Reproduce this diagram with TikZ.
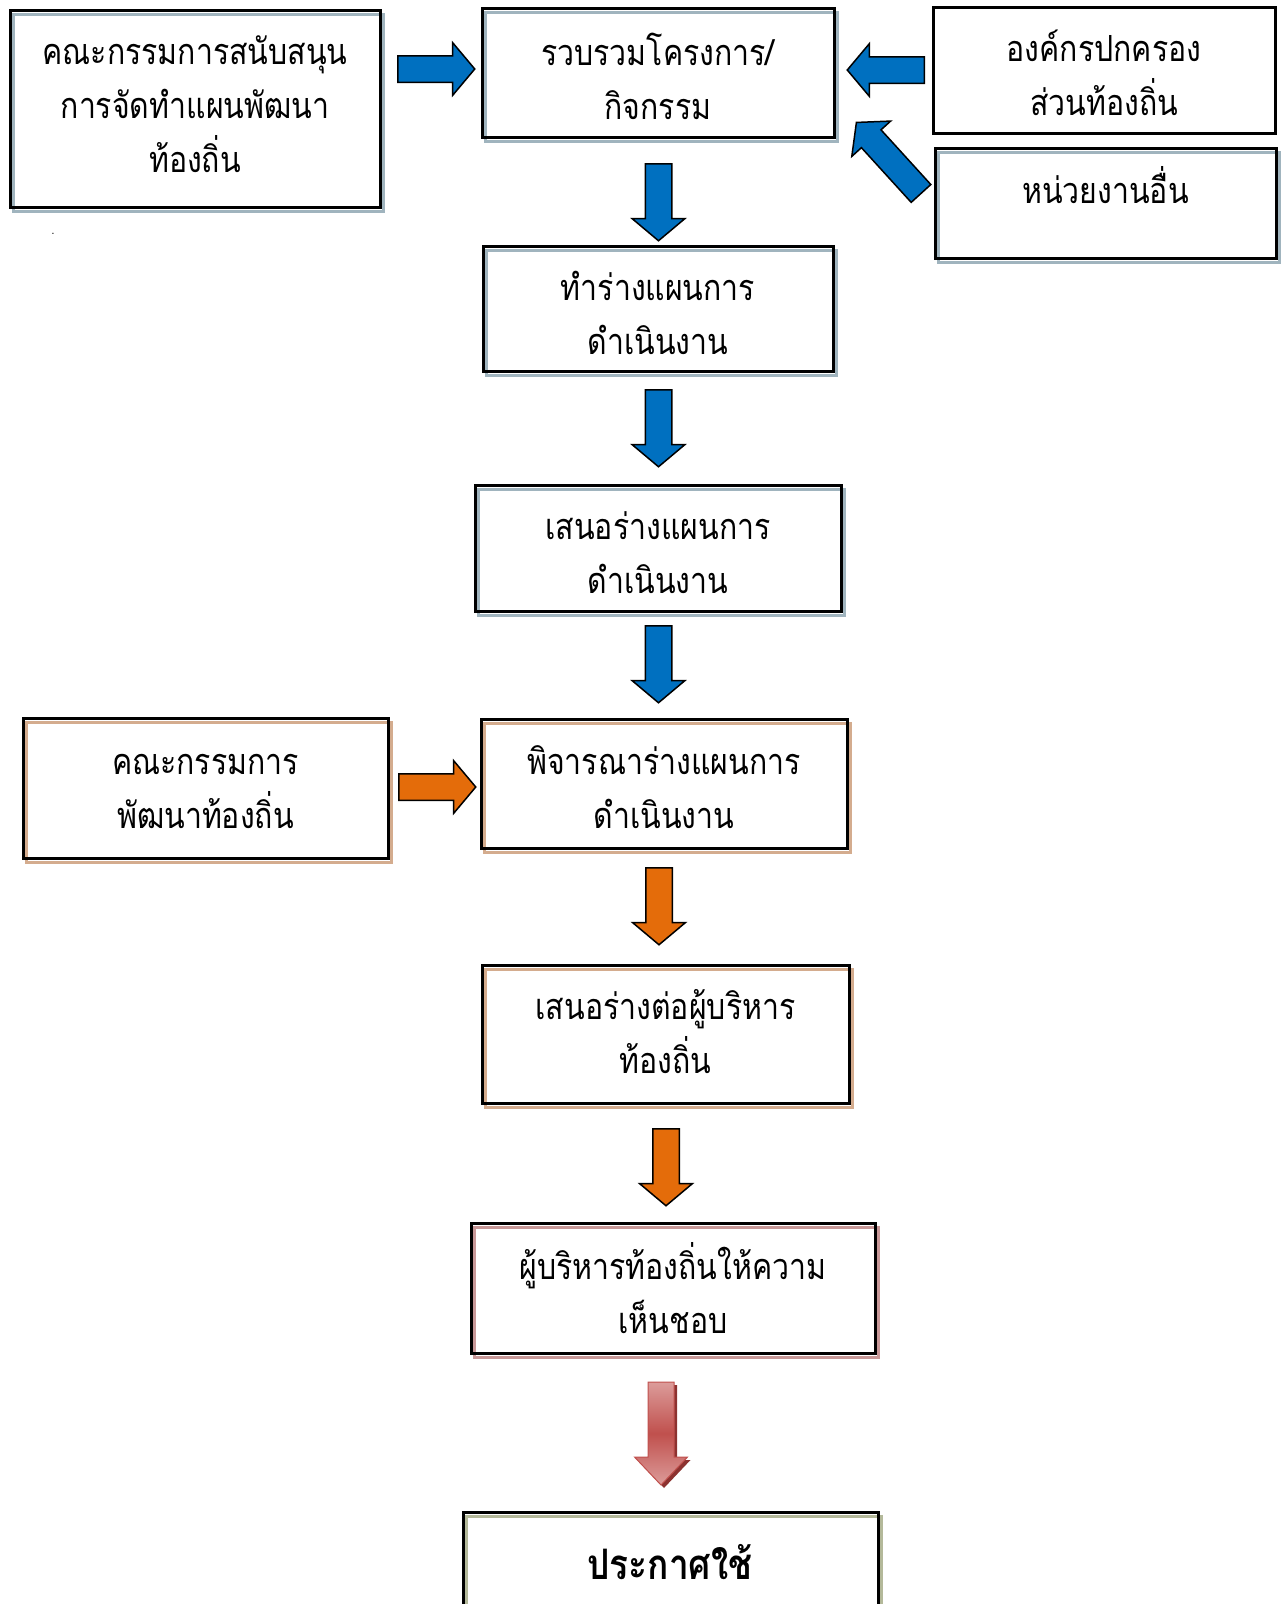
\documentclass[tikz,border=0pt]{standalone}
\usepackage{fontspec}
\setmainfont[Script=Thai, FakeStretch=0.84]{Loma}
\usetikzlibrary{shapes.arrows,shadows}

\definecolor{arrowblue}{HTML}{0070C0}
\definecolor{arroworange}{HTML}{E46C0A}
\definecolor{redarrow}{HTML}{C0504D}
\definecolor{redlight}{HTML}{DC9C9A}
\definecolor{reddark}{HTML}{8C3230}
\definecolor{edgeblue}{HTML}{A0B4BE}
\definecolor{edgetan}{HTML}{D4AC8E}
\definecolor{edgerose}{HTML}{C89898}
\definecolor{edgeolive}{HTML}{B4B99A}

% move a line of text up or down without changing its box
\newcommand{\nudge}[2]{\raisebox{#1}[\height][\depth]{#2}}

\begin{document}
\begin{tikzpicture}[
    x=1pt, y=-1pt,
    every node/.style={font=\fontsize{36}{54}\selectfont},
    box/.style={draw=black, line width=3pt, align=center, inner sep=0pt},
    boxshade/.style={box, general shadow={draw=#1, fill=none, line width=3pt, shadow xshift=3pt, shadow yshift=-4pt}},
    fat/.style={single arrow, anchor=tail, draw=black, line width=1.5pt, inner xsep=0pt, inner ysep=12.5pt,
      minimum height=77pt, single arrow head extend=13pt, single arrow tip angle=100},
    bluearrow/.style={fat, fill=arrowblue},
    orangearrow/.style={fat, fill=arroworange},
    redshade/.style={draw=redarrow, line width=1pt, top color=redlight, bottom color=redlight, middle color=redarrow}
  ]
    \useasboundingbox (0,0) rectangle (1282,1604);
    \clip (0,0) rectangle (1282,1604);

    % top row
    \node[boxshade=edgeblue, minimum width=370, minimum height=197] (support) at (195,108.5) {\nudge{4pt}{คณะกรรมการสนับสนุน}\\\nudge{4pt}{การจัดทำแผนพัฒนา}\\\nudge{4pt}{ท้องถิ่น}};
    \node[boxshade=edgeblue, minimum width=352, minimum height=129] (collect) at (658,72.5) {\nudge{-4pt}{รวบรวมโครงการ/}\\\nudge{-4pt}{กิจกรรม}};
    \node[box, minimum width=342, minimum height=126] (localgov) at (1104,70) {\nudge{-3pt}{องค์กรปกครอง}\\\nudge{-3pt}{ส่วนท้องถิ่น}};
    \node[boxshade=edgeblue, minimum width=341, minimum height=110] (others) at (1105.5,203) {\raisebox{37pt}{หน่วยงานอื่น}};
    \node (dot) at (53,234) {\fontsize{12}{14}\selectfont .};

    % main column
    \node[boxshade=edgeblue, minimum width=350, minimum height=125] (draft) at (658,308.5) {\nudge{-4pt}{ทำร่างแผนการ}\\\nudge{-4pt}{ดำเนินงาน}};
    \node[boxshade=edgeblue, minimum width=366, minimum height=126] (propose) at (658,548) {\nudge{-5pt}{เสนอร่างแผนการ}\\\nudge{-5pt}{ดำเนินงาน}};
    \node[boxshade=edgetan, minimum width=366, minimum height=129] (consider) at (664,783.5) {\nudge{-4pt}{พิจารณาร่างแผนการ}\\\nudge{-4pt}{ดำเนินงาน}};
    \node[boxshade=edgetan, minimum width=365, minimum height=140] (devcom) at (205.5,788) {\nudge{-3pt}{คณะกรรมการ}\\\nudge{-3pt}{พัฒนาท้องถิ่น}};
    \node[boxshade=edgetan, minimum width=367, minimum height=138] (toexec) at (665.5,1034) {\nudge{2pt}{เสนอร่างต่อผู้บริหาร}\\\nudge{2pt}{ท้องถิ่น}};
    \node[boxshade=edgerose, minimum width=404, minimum height=130] (approve) at (673,1288) {ผู้บริหารท้องถิ่นให้ความ\\เห็นชอบ};
    \node[boxshade=edgeolive, minimum width=415, minimum height=150] (announce) at (670.5,1587) {};
    \node[font=\fontsize{42}{54}\selectfont\bfseries] (announcetext) at (670,1562) {ประกาศใช้};

    % block arrows
    \node[bluearrow] (a1) at (397,69) {};
    \node[bluearrow, rotate=180] (a2) at (925,70) {};
    \node[bluearrow, rotate=132.3, minimum height=96pt] (a3) at (921.5,194) {};
    \node[bluearrow, rotate=-90] (a4) at (658.5,163) {};
    \node[bluearrow, rotate=-90] (a5) at (658.5,389) {};
    \node[bluearrow, rotate=-90] (a6) at (658.5,625) {};
    \node[orangearrow] (a7) at (398,787) {};
    \node[orangearrow, rotate=-90] (a8) at (659,867) {};
    \node[orangearrow, rotate=-90] (a9) at (666,1128) {};

    % shaded arrow down to the last box
    \coordinate (a10) at (661,1382);
    \fill[reddark, transform canvas={shift={(3pt,-3pt)}}] (a10) ++(-13,0) -- ++(0,75) -- ++(-13.5,0) -- ++(26.5,28) -- ++(26.5,-28) -- ++(-13.5,0) -- ++(0,-75) -- cycle;
    \shade[redshade] (a10) ++(-13,0) -- ++(0,75) -- ++(-13.5,0) -- ++(26.5,28) -- ++(26.5,-28) -- ++(-13.5,0) -- ++(0,-75) -- cycle;
  \end{tikzpicture}
\end{document}
